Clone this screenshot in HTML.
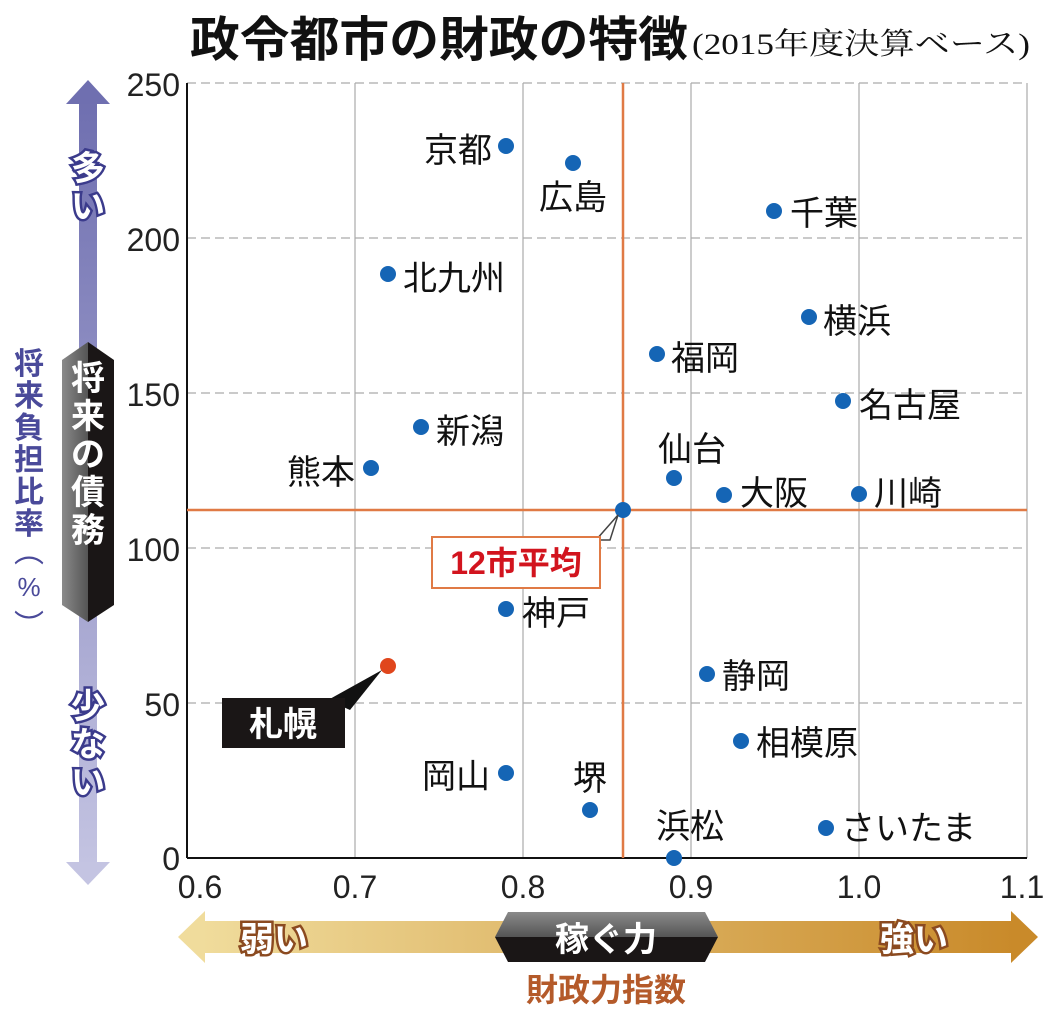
<!DOCTYPE html>
<html><head><meta charset="utf-8"><style>
html,body{margin:0;padding:0;background:#fff;}
svg{display:block;}
text{font-family:"Liberation Sans","Noto Sans CJK JP",sans-serif;}
</style></head><body>
<svg width="1055" height="1021" viewBox="0 0 1055 1021" xmlns="http://www.w3.org/2000/svg">
<defs>
<linearGradient id="vg" x1="0" y1="0" x2="0" y2="1"><stop offset="0" stop-color="#6f6fb0"/><stop offset="1" stop-color="#c4c4e2"/></linearGradient>
<linearGradient id="hg" x1="0" y1="0" x2="1" y2="0"><stop offset="0" stop-color="#f0dc9c"/><stop offset="1" stop-color="#c98a2a"/></linearGradient>
<linearGradient id="bx" x1="0" y1="0" x2="0" y2="1"><stop offset="0" stop-color="#8a8a8a"/><stop offset="0.5" stop-color="#555"/><stop offset="0.5" stop-color="#1a1616"/><stop offset="1" stop-color="#1a1616"/></linearGradient>
<linearGradient id="bxv" x1="0" y1="0" x2="1" y2="0"><stop offset="0" stop-color="#8a8a8a"/><stop offset="0.5" stop-color="#555"/><stop offset="0.5" stop-color="#1a1616"/><stop offset="1" stop-color="#1a1616"/></linearGradient>
</defs>
<text x="190" y="56" font-size="48" font-weight="bold" fill="#111" textLength="498" lengthAdjust="spacingAndGlyphs">政令都市の財政の特徴</text>
<text x="692" y="54" font-size="30" fill="#111" textLength="338" lengthAdjust="spacingAndGlyphs" style="font-family:'Liberation Serif','Noto Serif CJK SC',serif">(2015年度決算ベース)</text>
<!-- grid -->
<g stroke="#aaa" stroke-width="1.2" stroke-dasharray="9,5">
<line x1="187" y1="83" x2="1027" y2="83"/><line x1="187" y1="238" x2="1027" y2="238"/><line x1="187" y1="393" x2="1027" y2="393"/><line x1="187" y1="548" x2="1027" y2="548"/><line x1="187" y1="703" x2="1027" y2="703"/>
</g>
<g stroke="#aaa" stroke-width="1.2">
<line x1="355" y1="83" x2="355" y2="858"/><line x1="523" y1="83" x2="523" y2="858"/><line x1="691" y1="83" x2="691" y2="858"/><line x1="859" y1="83" x2="859" y2="858"/><line x1="1027" y1="83" x2="1027" y2="858"/>
</g>
<line x1="187" y1="83" x2="187" y2="858" stroke="#111" stroke-width="2"/>
<line x1="187" y1="858" x2="1027" y2="858" stroke="#111" stroke-width="2"/>
<line x1="623" y1="83" x2="623" y2="858" stroke="#e07a45" stroke-width="2.5"/>
<line x1="187" y1="510" x2="1027" y2="510" stroke="#e07a45" stroke-width="2.5"/>
<!-- y ticks -->
<g font-size="32" fill="#222" text-anchor="end">
<text x="180" y="96">250</text><text x="180" y="251">200</text><text x="180" y="406">150</text><text x="180" y="561">100</text><text x="180" y="716">50</text><text x="180" y="870">0</text>
</g>
<g font-size="32" fill="#222" text-anchor="middle">
<text x="200" y="898">0.6</text><text x="355" y="898">0.7</text><text x="523" y="898">0.8</text><text x="691" y="898">0.9</text><text x="859" y="898">1.0</text><text x="1022" y="898">1.1</text>
</g>
<!-- vertical arrow -->
<rect x="79" y="100" width="18" height="770" fill="url(#vg)"/>
<polygon points="88,80 110,104 66,104" fill="#6f6fb0"/>
<polygon points="88,885 110,862 66,862" fill="#c4c4e2"/>
<g font-size="34" font-weight="bold" fill="#fff" stroke="#3b3b8c" stroke-width="5" paint-order="stroke" text-anchor="middle">
<text x="88" y="180">多</text><text x="88" y="218">い</text>
<text x="88" y="718">少</text><text x="88" y="756">な</text><text x="88" y="794">い</text>
</g>
<polygon points="62,360 88,342 114,360 114,605 88,622 62,605" fill="url(#bxv)"/>
<g font-size="34" font-weight="bold" fill="#fff" text-anchor="middle">
<text x="88" y="390">将</text><text x="88" y="428">来</text><text x="88" y="466">の</text><text x="88" y="504">債</text><text x="88" y="542">務</text>
</g>
<g font-size="30" font-weight="bold" fill="#4a4a9a" text-anchor="middle">
<text x="29" y="374">将</text><text x="29" y="406">来</text><text x="29" y="438">負</text><text x="29" y="470">担</text><text x="29" y="502">比</text><text x="29" y="534">率</text>
<text x="29" y="562" font-weight="normal">︵</text><text x="29" y="596" font-weight="normal" font-size="26">%</text><text x="29" y="636" font-weight="normal">︶</text>
</g>
<!-- horizontal arrow -->
<rect x="200" y="921" width="815" height="32" fill="url(#hg)"/>
<polygon points="178,937 205,911 205,963" fill="#f0dc9c"/>
<polygon points="1038,937 1011,911 1011,963" fill="#c98a2a"/>
<g font-size="34" font-weight="bold" fill="#fff" stroke="#8b4a20" stroke-width="5" paint-order="stroke">
<text x="240" y="951">弱い</text><text x="880" y="951">強い</text>
</g>
<polygon points="508,912 705,912 718,937 705,962 508,962 495,937" fill="url(#bx)"/>
<text x="606" y="951" font-size="34" font-weight="bold" fill="#fff" text-anchor="middle">稼ぐ力</text>
<text x="606" y="1001" font-size="32" font-weight="bold" fill="#b45a2a" text-anchor="middle">財政力指数</text>
<!-- points -->
<g fill="#1565b5">
<circle cx="506" cy="146" r="8"/><circle cx="573" cy="163" r="8"/><circle cx="774" cy="211" r="8"/><circle cx="388" cy="274" r="8"/><circle cx="809" cy="317" r="8"/><circle cx="657" cy="354" r="8"/><circle cx="843" cy="401" r="8"/><circle cx="421" cy="427" r="8"/><circle cx="371" cy="468" r="8"/><circle cx="674" cy="478" r="8"/><circle cx="724" cy="495" r="8"/><circle cx="859" cy="494" r="8"/><circle cx="623" cy="510" r="8"/><circle cx="506" cy="609" r="8"/><circle cx="707" cy="674" r="8"/><circle cx="741" cy="741" r="8"/><circle cx="506" cy="773" r="8"/><circle cx="590" cy="810" r="8"/><circle cx="826" cy="828" r="8"/><circle cx="674" cy="858" r="8"/>
</g>
<circle cx="388" cy="666" r="8" fill="#e0461c"/>
<g font-size="34" fill="#111">
<text x="492" y="162" text-anchor="end">京都</text>
<text x="573" y="209" text-anchor="middle">広島</text>
<text x="790" y="225">千葉</text>
<text x="403" y="290">北九州</text>
<text x="823" y="333">横浜</text>
<text x="671" y="370">福岡</text>
<text x="859" y="417">名古屋</text>
<text x="436" y="443">新潟</text>
<text x="355" y="484" text-anchor="end">熊本</text>
<text x="692" y="461" text-anchor="middle">仙台</text>
<text x="740" y="505">大阪</text>
<text x="874" y="505">川崎</text>
<text x="522" y="625">神戸</text>
<text x="722" y="688">静岡</text>
<text x="756" y="755">相模原</text>
<text x="490" y="788" text-anchor="end">岡山</text>
<text x="590" y="790" text-anchor="middle">堺</text>
<text x="690" y="838" text-anchor="middle">浜松</text>
<text x="841" y="840">さいたま</text>
</g>
<!-- average callout -->
<polygon points="596,540 618,515 610,540" fill="#fff" stroke="#444" stroke-width="1.5"/>
<rect x="432" y="537" width="168" height="51" fill="#fff" stroke="#e07a45" stroke-width="2"/>
<text x="516" y="574" font-size="32" font-weight="bold" fill="#d2141e" text-anchor="middle">12市平均</text>
<!-- sapporo -->
<polygon points="328,700 382,670 350,710" fill="#111"/>
<rect x="222" y="698" width="123" height="50" fill="#1a1616"/>
<text x="283" y="736" font-size="34" font-weight="bold" fill="#fff" text-anchor="middle">札幌</text>
</svg>
</body></html>
